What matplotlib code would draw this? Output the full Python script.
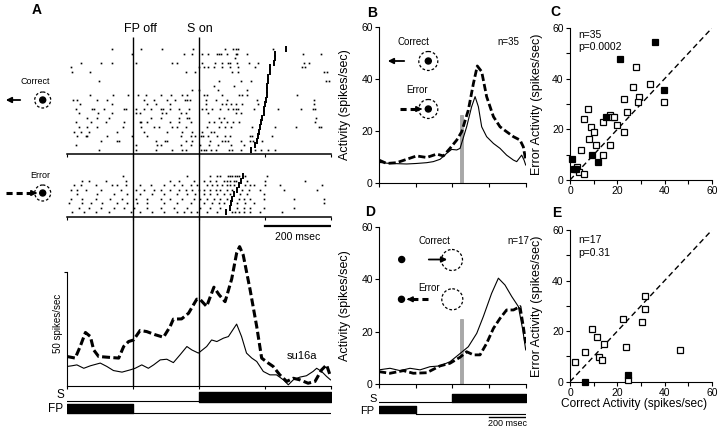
import matplotlib
matplotlib.use("Agg")
import matplotlib.pyplot as plt
from matplotlib.patches import Circle

plt.rcParams['font.family'] = ['Liberation Sans', 'DejaVu Sans']

# ================== DATA ==================
T0, T1 = -400, 400          # ms, relative to stimulus onset
FP_OFF, S_ON = -200, 0
TIME_TICKS = [-400, -200, 0, 200, 400]

# panel A raster, correct trials (one list of spike times per trial, ms)
correct_rows = [
    [-263, -175, -111, -17, 80, 104, 112, 120, 225],
    [-204, -45, -20, 9, 29, 54, 62, 67, 87, 112, 117, 145, 316, 370],
    [110],
    [-358, -298, -263, -189, -81, -66, 11, 50, 72, 90, 94, 117, 153, 181, 319, 334],
    [-387, 1, 16, 29, 47, 70, 94, 120, 171, 314, 324],
    [-384, -330, -40, -10, 100, 120, 380, 390],
    [],
    [-303, 62, 127, 158, 385, 395],
    [47, 107],
    [-20, 1, 57, 146],
    [-330, -260, -215, -185, -159, -116, -84, -50, -35, 16, 26, 72, 122, 130, 148, 299],
    [-381, -369, -308, -278, -167, -136, -96, -71, -43, -35, -27, 21, 52, 87, 178, 350],
    [-361, -263, -157, -131, -86, 21, 72, 84, 97, 112, 132, 181, 350],
    [-374, -323, -318, -288, -227, -222, -192, -167, -146, -116, -108, -86, -61, -30,
     11, 23, 39, 64, 90, 104, 114, 120, 168, 242, 309, 347, 353],
    [-364, -306, -263, -192, -179, -111, -98, -55, -40, 29, 112, 127],
    [-338, -308, -273, -146, -116, -61, -35, -30, 60, 77, 355],
    [-374, -328, -283, -227, -179, -175, -157, -86, -61, -25, 31, 47, 67, 87, 104, 122, 353],
    [-364, -340, -308, -229, -175, -136, -121, -81, -66, -40, 26, 62, 80, 97, 163, 233,
     294, 365, 370],
    [-379, -356, -333, -247, -167, -96, -50, -20, 11, 36, 47],
    [-369, -343, -338, -278, -202, -157, -55, -25, -10, 6, 13, 29, 54, 80, 94, 155, 161, 223],
    [-296, -247, -242, -131, -101, -96, -40, -20, 33, 72, 80, 90, 127, 155, 165, 193],
    [-374, -192, -126, -116, -55, -25, 3, 31, 57, 97, 137],
    [-303, -192, -131, -81, -50, -40, 6, 16, 23, 36, 52, 92, 100, 127, 171, 188, 211, 231],
]
correct_sacc = [266, 233, 231, 228, 215, 215, 211, 211, 208, 208, 206, 203, 201, 198,
                198, 193, 188, 185, 183, 181, 178, 171, 158]

# panel A raster, error trials
error_rows = [
    [-229, -35, 35, 56, 66, 88, 94, 101, 111, 116, 121, 141, 207],
    [-353, -333, -283, -222, -86, -61, -15, 15, 35, 51, 76, 86, 96, 106, 114, 147, 202, 323],
    [-379, -358, -313, -263, -247, -222, -177, -144, -106, -76, -50, -25, -5, 25, 40, 56,
     71, 86, 96, 106, 141, 157, 167, 202, 248, 374],
    [-389, -369, -343, -298, -237, -192, -167, -136, -116, -86, -61, -40, -20, 0, 15, 35,
     51, 66, 86, 101, 131, 152, 187, 258, 359],
    [-369, -308, -257, -217, -177, -141, -106, -66, -35, -10, 15, 35, 56, 76, 96, 126, 147, 197],
    [-389, -353, -313, -268, -232, -192, -156, -116, -86, -50, -15, 5, 25, 45, 66, 86, 121,
     136, 157, 197, 288, 379],
    [-394, -353, -328, -293, -247, -217, -187, -156, -106, -66, -25, 15, 40, 61, 76, 116,
     141, 167, 379],
    [-364, -333, -298, -257, -227, -197, -156, -116, -76, -35, 5, 35, 66, 116, 136, 157, 197, 288],
    [-384, -348, -313, -273, -207, -177, -141, -106, -66, -45, -25, -5, 25, 56, 101, 111,
     121, 136, 157, 187, 253],
]
error_sacc = [134, 128, 121, 116, 106, 101, 98, 96, 83]

# panel A spike density (spikes/sec)
psth_t_err = [-400, -375, -360, -344, -329, -319, -304, -279, -243, -228, -213, -198, -178,
              -158, -132, -107, -87, -77, -52, -31, -6, 4, 24, 46, 62, 80, 100, 115, 124,
              135, 156, 176, 191, 211, 226, 246, 267, 287, 307, 332, 353, 373, 388, 400]
psth_err = [12.8, 12.1, 17.2, 23.4, 21.6, 15.7, 12.8, 12.5, 12.1, 17.2, 19.4, 20.1, 24.3,
            23.8, 22.4, 21.3, 26.0, 29.3, 29.4, 31.9, 38.1, 38.0, 34.9, 43.4, 40.0, 37.0,
            47.0, 58.4, 61.3, 57.6, 42.2, 26.0, 12.1, 9.9, 8.4, 4.7, 1.8, 3.2, 2.5, 1.0,
            1.8, 6.9, 9.1, 4.0]
psth_t_cor = [-400, -385, -370, -349, -329, -299, -279, -259, -233, -208, -193, -173, -153,
              -137, -117, -97, -77, -57, -36, -21, -1, 24, 39, 55, 75, 90, 100, 115, 130,
              145, 161, 176, 196, 216, 236, 257, 272, 287, 307, 327, 347, 358, 373, 388, 400]
psth_cor = [8.4, 8.7, 9.1, 7.6, 8.7, 9.9, 8.4, 6.6, 5.9, 6.9, 7.6, 9.1, 7.6, 9.1, 11.3,
            11.6, 10.1, 13.5, 17.2, 15.7, 14.3, 17.2, 20.1, 19.4, 20.9, 21.6, 23.8, 27.1,
            21.6, 14.3, 12.1, 10.6, 6.2, 4.7, 4.7, 2.5, 0.3, 2.5, 3.7, 4.3, 6.2, 7.6, 6.2,
            4.0, 2.5]

# panel B population averages (n=35)
b_t_sol = [-400, -340, -249, -195, -140, -104, -67, -31, -4, 24, 42, 78, 105, 124, 142,
           160, 187, 224, 260, 296, 333, 351, 378, 391, 400]
b_sol = [7.8, 7.4, 7.2, 7.4, 7.7, 8.1, 9.0, 11.3, 12.8, 12.6, 13.2, 21.5, 29.2, 33.1, 29.2,
         21.5, 17.7, 15.1, 13.2, 10.6, 8.7, 8.1, 10.6, 8.7, 6.8]
b_t_dash = [-400, -358, -304, -249, -195, -140, -85, -49, -13, 24, 51, 87, 115, 136, 160,
            187, 224, 260, 296, 333, 369, 387, 400]
b_dash = [8.7, 7.4, 7.7, 9.0, 10.3, 9.7, 11.0, 10.3, 13.2, 16.4, 19.6, 27.9, 38.2, 44.9,
          42.7, 33.1, 25.4, 21.5, 19.6, 17.7, 16.4, 13.8, 8.7]
b_bar_t, b_bar_h = 50, 26

# panel D population averages (n=17)
d_t_sol = [-400, -340, -285, -231, -176, -122, -67, -13, 33, 87, 133, 169, 214, 251, 287,
           324, 360, 384, 400]
d_sol = [5.5, 6.1, 5.2, 6.1, 5.5, 6.7, 7.0, 8.6, 11.2, 14.3, 19.4, 25.8, 34.6, 40.4, 37.8,
         33.4, 29.6, 20.7, 13.1]
d_t_dash = [-400, -340, -267, -213, -140, -67, -13, 42, 78, 115, 151, 187, 224, 260, 296,
            333, 369, 387, 400]
d_dash = [4.8, 4.2, 5.2, 4.2, 4.4, 7.0, 8.0, 10.3, 12.4, 11.2, 11.2, 15.6, 21.3, 25.1,
          28.3, 28.3, 29.6, 22.0, 15.6]
d_bar_t, d_bar_h = 50, 25

# panel C scatter (correct vs error activity)
c_open_x = [27.8, 33.7, 26.8, 29.0, 28.8, 39.9, 22.9, 23.9, 7.7, 5.8, 16.9, 17.8, 18.8,
            13.9, 20.0, 8.9, 10.0, 22.9, 7.9, 11.0, 16.9, 4.8, 13.9, 2.8, 3.9, 5.9]
c_open_y = [44.7, 37.8, 36.8, 32.9, 30.9, 30.9, 31.8, 26.9, 27.9, 24.0, 25.7, 24.8, 24.8,
            22.9, 21.8, 20.9, 18.9, 18.8, 16.0, 14.0, 14.0, 12.0, 9.9, 5.2, 3.0, 2.2]
c_fill_x = [35.8, 21.1, 39.9, 15.0, 9.1, 11.9, 1.0, 1.7, 2.5]
c_fill_y = [54.5, 47.7, 35.7, 24.8, 9.9, 7.0, 8.1, 4.2, 4.2]

# panel E scatter
e_open_x = [31.6, 31.8, 30.5, 22.5, 9.4, 11.5, 14.5, 23.5, 46.5, 6.3, 12.4, 13.5, 2.2, 24.6]
e_open_y = [33.8, 28.6, 23.6, 24.7, 20.7, 17.7, 14.8, 13.6, 12.5, 11.7, 9.8, 8.7, 7.8, 0.7]
e_fill_x = [24.6, 6.3]
e_fill_y = [2.6, 0.0]

# ================== LAYOUT HELPERS ==================
W, H = 720, 430
fig = plt.figure(figsize=(7.2, 4.3), dpi=100)


def px_axes(x0, y0, x1, y1):
    return fig.add_axes([x0 / W, 1 - y1 / H, (x1 - x0) / W, (y1 - y0) / H])


def overlay(x0, x1):
    # time on x, figure pixels on y
    a = px_axes(x0, 0, x1, H)
    a.set_xlim(T0, T1)
    a.set_ylim(H, 0)
    a.axis("off")
    return a


DASH = (0, (2.6, 1.1))

# full-figure overlay for text and icons (pixel coordinates)
ov = fig.add_axes([0, 0, 1, 1])
ov.set_xlim(0, W)
ov.set_ylim(H, 0)
ov.axis("off")


def dashed_circle(x, y, r):
    ov.add_patch(Circle((x, y), r, fill=False, ls=(0, (2.2, 1.6)), lw=0.9, color="k"))


def dot(x, y, r=3.0):
    ov.add_patch(Circle((x, y), r, color="k"))


def arrow(x0, x1, y, dashed=False):
    if dashed:
        tip = x1 - 8 if x1 > x0 else x1 + 8
        ov.plot([x0, tip], [y, y], color="k", lw=2.2, ls=(0, (2.0, 1.3)), solid_capstyle="butt")
        ov.annotate("", xy=(x1, y), xytext=(tip, y),
                    arrowprops=dict(arrowstyle="-|>", color="k", lw=1.2, mutation_scale=8))
    else:
        ov.annotate("", xy=(x1, y), xytext=(x0, y),
                    arrowprops=dict(arrowstyle="-|>", color="k", lw=1.3, mutation_scale=8))


# ================== PANEL A ==================
def raster(ax, rows, sacc, ylim):
    for i, row in enumerate(rows):
        ax.plot(row, [i] * len(row), "s", ms=1.2, mew=0, color="k")
    ax.plot(sacc, range(len(sacc)), "|", ms=4.2, mew=1.4, color="k")
    ax.set_xlim(T0, T1)
    ax.set_ylim(*ylim)
    for s in ["top", "left", "right"]:
        ax.spines[s].set_visible(False)
    ax.spines["bottom"].set_linewidth(1.1)
    ax.set_xticks(TIME_TICKS)
    ax.set_xticklabels([])
    ax.set_yticks([])
    ax.tick_params(axis="x", length=2.5, width=0.8)
    ax.patch.set_alpha(0)


axRc = px_axes(67, 45, 330.5, 154)
raster(axRc, correct_rows, correct_sacc, (22.9, -0.9))
axRe = px_axes(67, 168, 330.5, 216.7)
raster(axRe, error_rows, error_sacc, (9.0, -1.8))

axP = px_axes(67, 240.5, 330.5, 385.5)
axP.plot(psth_t_err, psth_err, color="k", lw=2.2, ls=DASH)
axP.plot(psth_t_cor, psth_cor, color="k", lw=0.8)
axP.set_xlim(T0, T1)
axP.set_ylim(0, 64)
axP.spines["top"].set_visible(False)
axP.spines["right"].set_visible(False)
axP.spines["left"].set_bounds(0, 50)
axP.set_yticks([50])
axP.set_yticklabels([])
axP.set_xticks(TIME_TICKS)
axP.set_xticklabels([])
axP.tick_params(length=2.5, width=0.8)
axP.patch.set_alpha(0)

ovA = overlay(67, 330.5)
ovA.vlines([FP_OFF, S_ON], 37, 385.5, color="k", lw=1.0)
ovA.text(FP_OFF + 22, 29, "FP off", ha="center", va="center", fontsize=9)
ovA.text(S_ON + 3, 29, "S on", ha="center", va="center", fontsize=9)
ovA.plot([200, 400], [226, 226], color="k", lw=1.6)
ovA.text(300, 237, "200 msec", ha="center", va="center", fontsize=7.5)
ovA.plot([T0, S_ON], [400.5, 400.5], color="k", lw=0.8)
ovA.broken_barh([(S_ON, T1 - S_ON)], (392, 9.5), color="k")
ovA.broken_barh([(T0, FP_OFF - T0)], (403.5, 9), color="k")
ovA.plot([FP_OFF, T1], [413, 413], color="k", lw=0.8)

ov.text(37, 10, "A", fontsize=10, fontweight="bold", ha="center", va="center")
ov.text(58, 323, "50 spikes/sec", rotation=90, fontsize=7, ha="center", va="center")
ov.text(302, 356, "su16a", fontsize=8, ha="center", va="center")
ov.text(60, 395.5, "S", fontsize=8.5, ha="center", va="center")
ov.text(56, 408.5, "FP", fontsize=8.5, ha="center", va="center")

ov.text(35, 82, "Correct", fontsize=6.5, ha="center", va="center")
arrow(23, 3, 100)
dashed_circle(42.7, 100, 8)
dot(42.7, 100)
ov.text(40, 176, "Error", fontsize=6.5, ha="center", va="center")
arrow(6, 40, 193, dashed=True)
dashed_circle(42.7, 193, 8)
dot(42.7, 193)


# ================== PANELS B, D ==================
def activity_axes(ax, t_sol, v_sol, t_dash, v_dash, bar_t, bar_h):
    ax.bar(bar_t, bar_h, width=18, color="#a8a8a8", edgecolor="#8a8a8a", lw=0.4, zorder=1)
    ax.plot(t_dash, v_dash, color="k", lw=2.0, ls=DASH, zorder=3)
    ax.plot(t_sol, v_sol, color="k", lw=0.8, zorder=2)
    ax.set_xlim(T0, T1)
    ax.set_ylim(0, 60)
    ax.spines["top"].set_visible(False)
    ax.spines["right"].set_visible(False)
    ax.set_yticks([0, 20, 40, 60])
    ax.set_xticks(TIME_TICKS)
    ax.set_xticklabels([])
    ax.tick_params(length=3, width=0.8, labelsize=7.5, pad=1.5)
    ax.set_ylabel("Activity (spikes/sec)", fontsize=9)
    ax.yaxis.set_label_coords(-0.19, 0.5)
    ax.patch.set_alpha(0)


axB = px_axes(379, 26.7, 525.7, 182.7)
activity_axes(axB, b_t_sol, b_sol, b_t_dash, b_dash, b_bar_t, b_bar_h)
axD = px_axes(379, 226.7, 525.7, 384.3)
activity_axes(axD, d_t_sol, d_sol, d_t_dash, d_dash, d_bar_t, d_bar_h)

ovD = overlay(379, 525.7)
ovD.plot([T0, S_ON], [402, 402], color="k", lw=0.8)
ovD.broken_barh([(S_ON, T1 - S_ON)], (394, 8), color="k")
ovD.broken_barh([(T0, FP_OFF - T0)], (406, 7), color="k")
ovD.plot([FP_OFF, T1], [413.5, 413.5], color="k", lw=0.8)
ovD.plot([200, 400], [417, 417], color="k", lw=1.0)
ovD.text(300, 423.5, "200 msec", ha="center", va="center", fontsize=6.5)

ov.text(372, 13, "B", fontsize=10, fontweight="bold", ha="center", va="center")
ov.text(370, 212, "D", fontsize=10, fontweight="bold", ha="center", va="center")
ov.text(373, 398.5, "S", fontsize=8, ha="center", va="center")
ov.text(367, 410.5, "FP", fontsize=8, ha="center", va="center")

ov.text(413, 42, "Correct", fontsize=7, ha="center", va="center")
ov.text(508, 42, "n=35", fontsize=7, ha="center", va="center")
arrow(407, 385, 61)
dashed_circle(428.3, 61, 9.5)
dot(428.3, 61)
ov.text(417, 90, "Error", fontsize=7, ha="center", va="center")
arrow(400, 425, 109, dashed=True)
dashed_circle(428.3, 109, 9.5)
dot(428.3, 109)

ov.text(434, 241, "Correct", fontsize=7, ha="center", va="center")
ov.text(518, 241, "n=17", fontsize=7, ha="center", va="center")
dot(401.7, 259.5)
arrow(426, 450, 259.5)
dashed_circle(452, 260, 10.5)
ov.text(429, 288, "Error", fontsize=7, ha="center", va="center")
dot(401.5, 299.3)
arrow(428, 404, 299.3, dashed=True)
dashed_circle(452.3, 299.3, 10.5)


# ================== PANELS C, E ==================
def scatter_axes(ax, ox, oy, fx, fy):
    ax.axline((0, 0), slope=1, color="k", lw=1.0, ls=(0, (4, 2.5)), zorder=1)
    ax.plot(ox, oy, "s", ms=4.5, mfc="white", mec="k", mew=0.9, ls="none", zorder=3, clip_on=False)
    ax.plot(fx, fy, "s", ms=4.5, mfc="k", mec="k", mew=0.9, ls="none", zorder=3, clip_on=False)
    ax.set_xlim(0, 60)
    ax.set_ylim(0, 60)
    ax.spines["top"].set_visible(False)
    ax.spines["right"].set_visible(False)
    ax.set_xticks([0, 20, 40, 60])
    ax.set_yticks([0, 20, 40, 60])
    ax.set_xticks([10, 30, 50], minor=True)
    ax.set_yticks([10, 30, 50], minor=True)
    ax.tick_params(which="both", length=3, width=0.8, labelsize=7.5, pad=1.5)
    ax.set_ylabel("Error Activity (spikes/sec)", fontsize=9)
    ax.yaxis.set_label_coords(-0.19, 0.5)
    ax.patch.set_alpha(0)


axC = px_axes(570, 28, 712, 180)
scatter_axes(axC, c_open_x, c_open_y, c_fill_x, c_fill_y)
axE = px_axes(570, 230, 712, 381.7)
scatter_axes(axE, e_open_x, e_open_y, e_fill_x, e_fill_y)
axE.set_xlabel("Correct Activity (spikes/sec)", fontsize=8.6)
axE.xaxis.set_label_coords(0.45, -0.105)

ov.text(555, 12, "C", fontsize=10, fontweight="bold", ha="center", va="center")
ov.text(557, 213, "E", fontsize=10, fontweight="bold", ha="center", va="center")
ov.text(578, 35, "n=35", fontsize=7.5, ha="left", va="center")
ov.text(578, 47, "p=0.0002", fontsize=7.5, ha="left", va="center")
ov.text(578, 240, "n=17", fontsize=7.5, ha="left", va="center")
ov.text(578, 253, "p=0.31", fontsize=7.5, ha="left", va="center")

fig.savefig("out.png", dpi=100)
